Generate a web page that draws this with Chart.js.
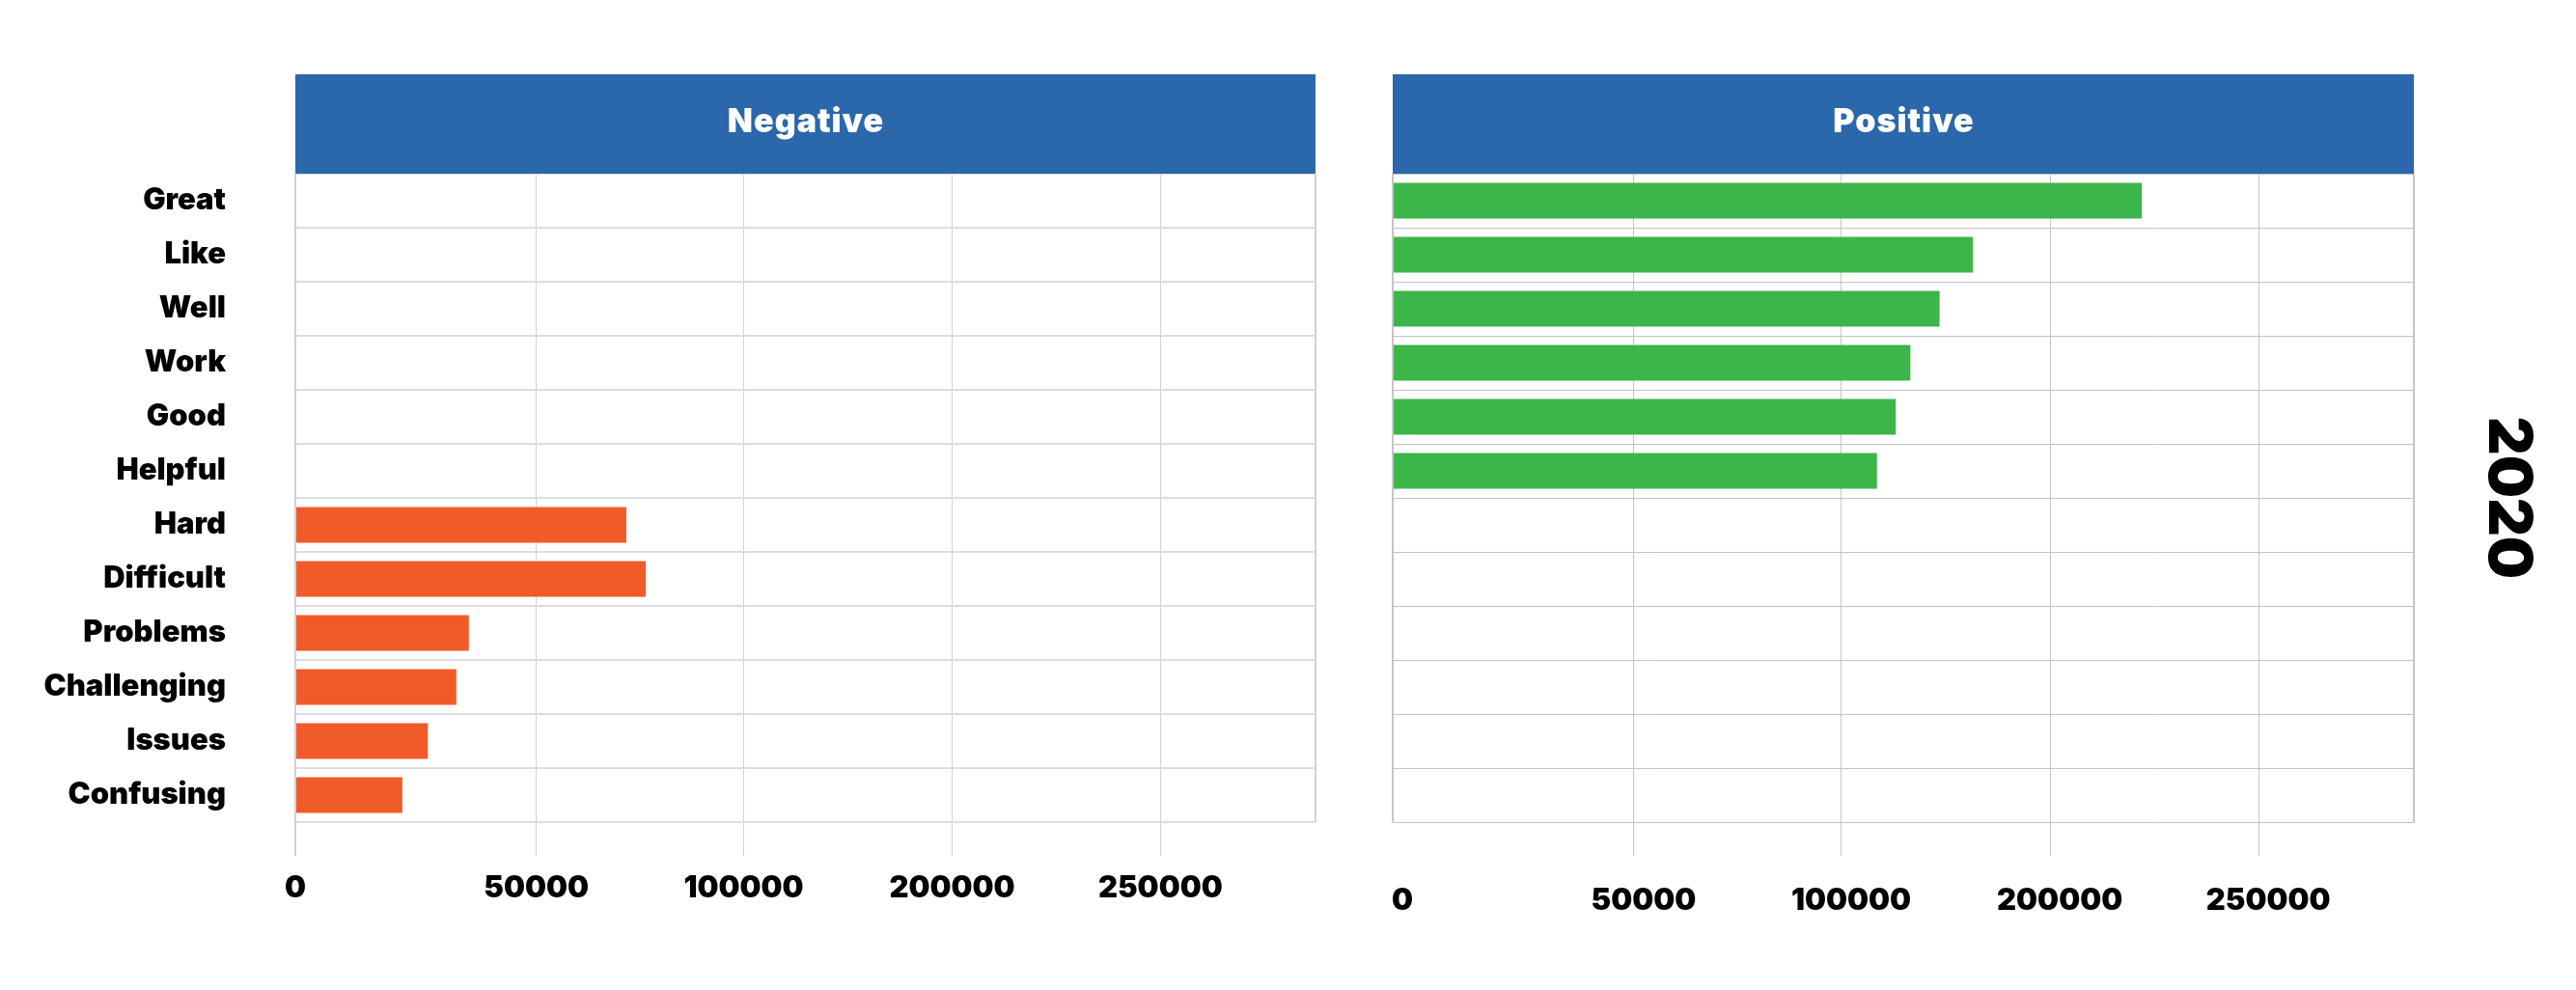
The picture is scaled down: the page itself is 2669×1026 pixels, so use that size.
<!DOCTYPE html>
<html>
<head>
<meta charset="utf-8">
<script src="https://cdn.jsdelivr.net/npm/chart.js@4.4.1/dist/chart.umd.min.js"></script>
<style>
  html, body { margin: 0; padding: 0; background: #ffffff; }
  body { width: 2669px; height: 1026px; position: relative; overflow: hidden; }
  .panel { position: absolute; top: 0; }
</style>
</head>
<body>
<div class="panel" style="left:0px;width:1400px;height:1026px;"><canvas id="neg" width="1400" height="1026" style="width:1400px;height:1026px;"></canvas></div>
<div class="panel" style="left:1400px;width:1269px;height:1026px;"><canvas id="pos" width="1269" height="1026" style="width:1269px;height:1026px;"></canvas></div>
<script>
// ---------------- data ----------------
const categories = ['Great', 'Like', 'Well', 'Work', 'Good', 'Helpful', 'Hard', 'Difficult', 'Problems', 'Challenging', 'Issues', 'Confusing'];
const negativeValues = [null, null, null, null, null, null, 71700, 76400, 36000, 33400, 27500, 22200];
const positiveValues = [222000, 163000, 147000, 133000, 126000, 117000, null, null, null, null, null, null];
const tickValues = [0, 50000, 100000, 200000, 250000];
const tickLabels = ['0', '50000', '100000', '200000', '250000'];
const axisMax = 287000;
const panelTitles = ['Negative', 'Positive'];
const yearLabel = '2020';

// ---------------- styling ----------------
const FONT = "Inter, 'Lato', 'Noto Sans', sans-serif";
const W = 900;
const tickFractions = [0, 0.2362, 0.4395, 0.6438, 0.848, 1];

// Axis whose labelled stops are not evenly spaced (as drawn in the source chart)
class PiecewiseScale extends Chart.LinearScale {
  static id = 'piecewise';
  static defaults = Chart.LinearScale.defaults;
  _stops() {
    return { v: tickValues.concat([this.max]), f: tickFractions };
  }
  buildTicks() {
    this.start = this.min;
    this.end = this.max;
    return tickValues.concat([this.max]).map(v => ({ value: v }));
  }
  getPixelForValue(value) {
    if (value === null || value === undefined || isNaN(value)) return NaN;
    const { v, f } = this._stops();
    let i = 0;
    while (i < v.length - 2 && value > v[i + 1]) i++;
    const t = (value - v[i]) / (v[i + 1] - v[i]);
    return this.getPixelForDecimal(f[i] + t * (f[i + 1] - f[i]));
  }
  getValueForPixel(pixel) {
    const dec = this.getDecimalForPixel(pixel);
    const { v, f } = this._stops();
    let i = 0;
    while (i < f.length - 2 && dec > f[i + 1]) i++;
    const t = (dec - f[i]) / (f[i + 1] - f[i]);
    return v[i] + t * (v[i + 1] - v[i]);
  }
}
Chart.register(PiecewiseScale);

const headerPlugin = {
  id: 'headerBand',
  afterDraw(chart, args, opts) {
    const { ctx, chartArea } = chart;
    ctx.save();
    ctx.fillStyle = opts.color;
    ctx.fillRect(chartArea.left, opts.top, chartArea.right - chartArea.left, chartArea.top - opts.top);
    ctx.fillStyle = '#ffffff';
    ctx.font = W + " 34px " + FONT;
    if ('letterSpacing' in ctx) ctx.letterSpacing = '1px';
    ctx.textAlign = 'center';
    ctx.textBaseline = 'alphabetic';
    ctx.fillText(opts.text, (chartArea.left + chartArea.right) / 2 + 0.5, opts.baseline);
    ctx.restore();
  }
};

function xAxis(isLeft) {
  const last = tickValues.length;
  return {
    type: 'piecewise',
    min: 0,
    max: axisMax,
    afterFit: s => { s.height = 120; },
    border: { display: false },
    grid: {
      color: isLeft ? '#cfd1d5' : '#c6c6c6',
      lineWidth: c => (c.index === 0 || c.index === last) ? 2 : 1,
      drawTicks: true,
      tickLength: 35,
      tickColor: c => (c.index === last || (!isLeft && c.index === 0)) ? 'rgba(0,0,0,0)' : (isLeft ? '#cfd1d5' : '#c6c6c6'),
      tickWidth: c => c.index === 0 ? 2 : 1
    },
    ticks: {
      autoSkip: false,
      maxRotation: 0,
      minRotation: 0,
      padding: isLeft ? 15 : 28,
      labelOffset: isLeft ? 0 : 10,
      color: '#000000',
      font: { family: FONT, weight: W, size: 31 },
      callback: (v, i) => (tickLabels[i] !== undefined ? tickLabels[i] : '')
    }
  };
}

const common = {
  indexAxis: 'y',
  responsive: false,
  animation: false,
  devicePixelRatio: window.devicePixelRatio || 1,
  events: []
};

new Chart(document.getElementById('neg'), {
  type: 'bar',
  data: {
    labels: categories,
    datasets: [{
      label: panelTitles[0],
      data: negativeValues,
      backgroundColor: '#f15a29',
      borderWidth: 0,
      barPercentage: 0.66,
      categoryPercentage: 1
    }]
  },
  options: Object.assign({}, common, {
    layout: { padding: { top: 180, right: 37, bottom: 54, left: 0 } },
    plugins: {
      legend: { display: false },
      tooltip: { enabled: false },
      headerBand: { color: '#2a67ab', top: 77, baseline: 137, text: panelTitles[0] }
    },
    scales: {
      x: xAxis(true),
      y: {
        type: 'category',
        afterFit: s => { s.width = 306; },
        border: { display: false },
        grid: { color: '#dcdcdc', lineWidth: 2, drawTicks: false, offset: true },
        ticks: {
          padding: 72,
          color: '#000000',
          font: { family: FONT, weight: W, size: 31 }
        }
      }
    }
  }),
  plugins: [headerPlugin]
});

new Chart(document.getElementById('pos'), {
  type: 'bar',
  data: {
    labels: categories,
    datasets: [{
      label: panelTitles[1],
      data: positiveValues,
      backgroundColor: '#3cb54a',
      borderWidth: 0,
      barPercentage: 0.66,
      categoryPercentage: 1
    }]
  },
  options: Object.assign({}, common, {
    layout: { padding: { top: 180, right: 0, bottom: 54, left: 43 } },
    plugins: {
      legend: { display: false },
      tooltip: { enabled: false },
      headerBand: { color: '#2a67ab', top: 77, baseline: 137, text: panelTitles[1] }
    },
    scales: {
      x: xAxis(false),
      y: {
        type: 'category',
        position: 'right',
        afterFit: s => { s.width = 168; },
        border: { display: false },
        grid: { color: '#c2c2c2', lineWidth: 1, drawTicks: false, offset: true },
        ticks: { display: false },
        title: {
          display: true,
          text: yearLabel,
          color: '#000000',
          font: { family: FONT, weight: W, size: 62 },
          padding: { top: 34, bottom: 0 }
        }
      }
    }
  }),
  plugins: [headerPlugin]
});
</script>
</body>
</html>
